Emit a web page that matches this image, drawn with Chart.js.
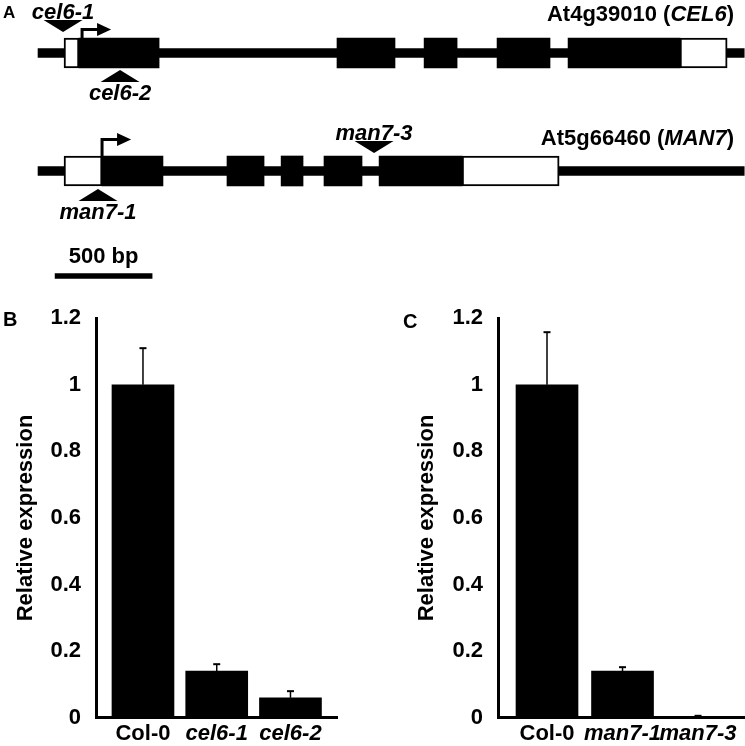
<!DOCTYPE html>
<html>
<head>
<meta charset="utf-8">
<script src="https://cdn.jsdelivr.net/npm/chart.js@4.4.0/dist/chart.umd.min.js"></script>
<style>
  html, body { margin: 0; padding: 0; background: #fff; }
  #wrap { position: relative; width: 745px; height: 746px; overflow: hidden; }
  canvas { position: absolute; }
</style>
</head>
<body>
<div id="wrap">
  <canvas id="geneChart" width="745" height="290" style="left:0;top:0"></canvas>
  <canvas id="celChart" width="372" height="456" style="left:0;top:290px"></canvas>
  <canvas id="manChart" width="373" height="456" style="left:372px;top:290px"></canvas>
</div>
<script>
// gene models, in bp from the left end of the drawn region
const geneNames = ['CEL6', 'MAN7'];
const geneIds = ['At4g39010', 'At5g66460'];
const geneSpan = [0, 3640];
const cel6Exons = [[211, 624], [1541, 1840], [1990, 2160], [2366, 2639], [2732, 3309]];
const cel6Utrs = [[134, 211], [3309, 3552]];
const man7Exons = [[330, 644], [974, 1165], [1253, 1366], [1474, 1670], [1758, 2186]];
const man7Utrs = [[134, 330], [2186, 2686]];
const tssPos = [227, 330];
const insertNames = ['cel6-1', 'cel6-2', 'man7-1', 'man7-3'];
const insertGene = [0, 0, 1, 1];
const insertPos = [129, 423, 309, 1732];
const insertSide = ['above', 'below', 'below', 'above'];
const scaleBarBp = [88, 588];
const scaleBarText = '500 bp';

// relative expression (qRT-PCR)
const celLabels = ['Col-0', 'cel6-1', 'cel6-2'];
const celValues = [1, 0.14, 0.06];
const celErrors = [0.11, 0.021, 0.02];
const manLabels = ['Col-0', 'man7-1', 'man7-3'];
const manValues = [1, 0.14, 0.004];
const manErrors = [0.158, 0.012, 0.002];
const yTicks = [0, 0.2, 0.4, 0.6, 0.8, 1, 1.2];

const family = '"Liberation Sans", Arial, Helvetica, sans-serif';
Chart.defaults.font.family = family;
Chart.defaults.color = '#000';

const fnt = (style, size) => style + ' ' + size + 'px ' + family;

// ---------- panel A ----------
const scaleRow = 1.89;
const arrowLift = [23.5, 31.5];
const insertGap = [21, 17, 18, 18];
const nameLift = [32, 26];

const rows = (pairs, row) => pairs.map(p => ({ x: p, y: row }));

const geneMarks = {
  id: 'geneMarks',
  afterDatasetsDraw(chart) {
    const { ctx, scales: { x, y } } = chart;
    ctx.save();
    ctx.fillStyle = '#000';
    ctx.strokeStyle = '#000';
    ctx.lineJoin = 'miter';

    // transcription start arrows
    tssPos.forEach((bp, g) => {
      const px = x.getPixelForValue(bp);
      const cy = y.getPixelForValue(g);
      const hy = cy - arrowLift[g];
      ctx.lineWidth = 3;
      ctx.beginPath();
      ctx.moveTo(px, cy - 15);
      ctx.lineTo(px, hy);
      ctx.lineTo(px + 17, hy);
      ctx.stroke();
      ctx.beginPath();
      ctx.moveTo(px + 15, hy - 6.5);
      ctx.lineTo(px + 29, hy);
      ctx.lineTo(px + 15, hy + 6.5);
      ctx.closePath();
      ctx.fill();
    });

    // T-DNA insertions
    ctx.textAlign = 'center';
    ctx.textBaseline = 'alphabetic';
    ctx.font = fnt('italic bold', 22);
    insertNames.forEach((name, k) => {
      const px = x.getPixelForValue(insertPos[k]);
      const cy = y.getPixelForValue(insertGene[k]);
      const up = insertSide[k] === 'above';
      const apex = up ? cy - insertGap[k] : cy + insertGap[k];
      const base = up ? apex - 12 : apex + 12;
      ctx.beginPath();
      ctx.moveTo(px - 19.5, base);
      ctx.lineTo(px + 19.5, base);
      ctx.lineTo(px, apex);
      ctx.closePath();
      ctx.fill();
      ctx.fillText(name, px, up ? base - 1 : base + 18);
    });

    // gene names, right aligned
    ctx.textAlign = 'right';
    geneIds.forEach((id, g) => {
      const by = y.getPixelForValue(g) - nameLift[g];
      let right = chart.chartArea.right - 11;
      ctx.font = fnt('bold', 22);
      ctx.fillText(')', right, by);
      right -= ctx.measureText(')').width;
      ctx.font = fnt('italic bold', 22);
      ctx.fillText(geneNames[g], right, by);
      right -= ctx.measureText(geneNames[g]).width;
      ctx.font = fnt('bold', 22);
      ctx.fillText(id + ' (', right, by);
    });

    // scale bar label
    ctx.textAlign = 'center';
    ctx.font = fnt('bold', 22);
    const sx = x.getPixelForValue((scaleBarBp[0] + scaleBarBp[1]) / 2);
    ctx.fillText(scaleBarText, sx, y.getPixelForValue(scaleRow) - 13);

    // panel letter
    ctx.textAlign = 'left';
    ctx.font = fnt('bold', 17);
    ctx.fillText('A', 3, 18);
    ctx.restore();
  }
};

new Chart(document.getElementById('geneChart'), {
  type: 'bar',
  data: {
    datasets: [
      {
        data: [...rows(cel6Utrs, 0), ...rows(man7Utrs, 1)],
        backgroundColor: '#fff', borderColor: '#000', borderWidth: 2,
        borderSkipped: false, barThickness: 30, grouped: false, order: 1
      },
      {
        data: [...rows(cel6Exons, 0), ...rows(man7Exons, 1)],
        backgroundColor: '#000', barThickness: 30, grouped: false, order: 2
      },
      {
        data: [{ x: geneSpan, y: 0 }, { x: geneSpan, y: 1 }],
        backgroundColor: '#000', barThickness: 9, grouped: false, order: 3
      },
      {
        data: [{ x: scaleBarBp, y: scaleRow }],
        backgroundColor: '#000', barThickness: 5, grouped: false, order: 3
      }
    ]
  },
  options: {
    indexAxis: 'y',
    responsive: false,
    animation: false,
    layout: { padding: 0 },
    plugins: { legend: { display: false }, tooltip: { enabled: false } },
    scales: {
      x: { type: 'linear', display: false, offset: false, min: -196, max: 3644 },
      y: { type: 'linear', display: false, offset: false, min: -0.449, max: 2.0085, reverse: true }
    }
  },
  plugins: [geneMarks]
});

// ---------- panels B and C ----------
const errorBars = {
  id: 'errorBars',
  afterDatasetsDraw(chart) {
    const { ctx, scales: { y } } = chart;
    ctx.save();
    ctx.strokeStyle = '#000';
    chart.data.datasets.forEach((ds, di) => {
      chart.getDatasetMeta(di).data.forEach((bar, i) => {
        const top = y.getPixelForValue(ds.data[i].y + ds.errors[i]);
        ctx.lineWidth = 1.5;
        ctx.beginPath();
        ctx.moveTo(bar.x, bar.y);
        ctx.lineTo(bar.x, top);
        ctx.stroke();
        ctx.lineWidth = 2;
        ctx.beginPath();
        ctx.moveTo(bar.x - 3.5, top);
        ctx.lineTo(bar.x + 3.5, top);
        ctx.stroke();
      });
    });
    ctx.restore();
  }
};

const panelLetter = {
  id: 'panelLetter',
  afterDraw(chart, args, opts) {
    const ctx = chart.ctx;
    ctx.save();
    ctx.fillStyle = '#000';
    ctx.font = fnt('bold', 20);
    ctx.textAlign = 'left';
    ctx.textBaseline = 'alphabetic';
    ctx.fillText(opts.text, opts.x, opts.y);
    ctx.restore();
  }
};

function expressionChart(id, labels, values, errors, look) {
  return new Chart(document.getElementById(id), {
    type: 'bar',
    data: {
      labels: labels,
      datasets: [{
        data: values.map((v, i) => ({ x: i, y: v })),
        errors: errors,
        backgroundColor: '#000',
        barThickness: 62
      }]
    },
    options: {
      responsive: false,
      animation: false,
      layout: { padding: { top: 28, right: look.padRight, bottom: 0, left: 0 } },
      plugins: {
        legend: { display: false },
        tooltip: { enabled: false },
        panelLetter: { text: look.letter, x: look.letterX, y: look.letterY }
      },
      scales: {
        x: {
          type: 'linear',
          offset: false,
          min: look.xMin,
          max: look.xMax,
          grid: { display: false, drawTicks: false, offset: false },
          border: { color: '#000', width: 3 },
          afterBuildTicks: s => { s.ticks = labels.map((_, i) => ({ value: i })); },
          afterFit: s => { s.height = 25.5; },
          ticks: {
            padding: 3,
            autoSkip: false,
            maxRotation: 0,
            color: '#000',
            callback: v => labels[v],
            font: ctx => ({ family: family, size: 22, weight: 'bold', style: ctx.index === 0 ? 'normal' : 'italic' })
          }
        },
        y: {
          min: 0,
          max: 1.2,
          grid: { display: false, drawTicks: false },
          border: { color: '#000', width: 3 },
          afterBuildTicks: s => { s.ticks = yTicks.map(v => ({ value: v })); },
          afterFit: s => { s.width = look.axisLeft; },
          ticks: {
            padding: 15,
            color: '#000',
            font: { family: family, size: 22, weight: 'bold' },
            callback: v => String(+v.toFixed(1))
          },
          title: {
            display: true,
            text: 'Relative expression',
            color: '#000',
            font: { family: family, size: 22, weight: 'bold' },
            padding: { top: look.titlePad, bottom: 0 }
          }
        }
      }
    },
    plugins: [errorBars, panelLetter]
  });
}

expressionChart('celChart', celLabels, celValues, celErrors, {
  letter: 'B', letterX: 3, letterY: 36,
  axisLeft: 96, padRight: 35, xMin: -0.637, xMax: 2.631, titlePad: 12.8
});

expressionChart('manChart', manLabels, manValues, manErrors, {
  letter: 'C', letterX: 31, letterY: 38,
  axisLeft: 126, padRight: 0, xMin: -0.649, xMax: 2.622, titlePad: 41.8
});
</script>
</body>
</html>
